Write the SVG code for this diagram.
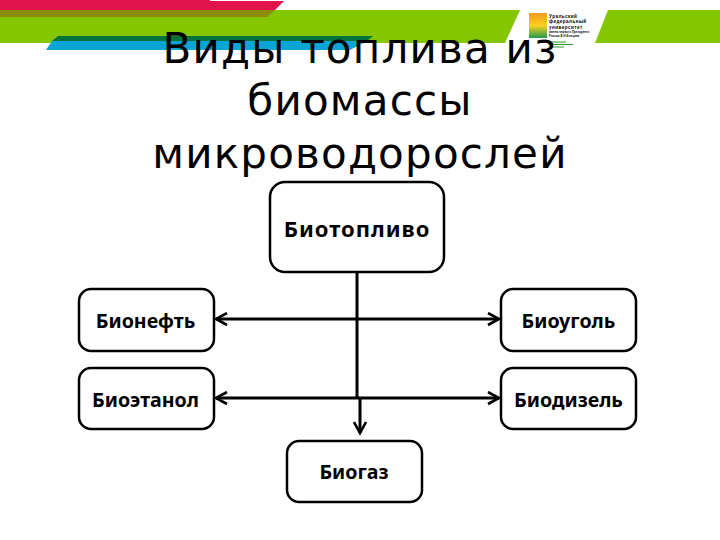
<svg xmlns="http://www.w3.org/2000/svg" width="720" height="540" viewBox="0 0 720 540">
<defs>
<linearGradient id="lg" x1="0" y1="0" x2="0" y2="1"><stop offset="0" stop-color="#f39a1e"/><stop offset="0.5" stop-color="#fbd021"/><stop offset="1" stop-color="#1f9c4e"/></linearGradient>
<marker id="arr" markerUnits="userSpaceOnUse" markerWidth="15" markerHeight="15" refX="12" refY="7" orient="auto-start-reverse" viewBox="0 0 15 14"><path d="M1 1 L12 7 L1 13" fill="none" stroke="#000" stroke-width="2.6"/></marker>
</defs>
<style>
.n{fill:#fff;stroke:#000;stroke-width:2.5}
.t{font-family:"Noto Sans","Open Sans","DejaVu Sans",sans-serif;font-weight:700;font-size:19.6px;text-anchor:middle;fill:#000}
.top{font-size:22px;letter-spacing:1px}
.h{font-family:"DejaVu Sans",sans-serif;font-size:42px;letter-spacing:1.2px;text-anchor:middle;fill:#000}
.c{fill:none;stroke:#000;stroke-width:3}
.l{font-family:"Liberation Sans",sans-serif;font-size:4.6px;letter-spacing:0.45px;font-weight:700;fill:#000}
.s{font-size:2.8px;letter-spacing:0.1px}
</style>
<rect width="720" height="540" fill="#fff"/>
<g id="bands">
<polygon points="0,10 275,10 520,10 505,43 0,43" fill="#84c600"/>
<polygon points="608,10 720,10 720,43 595,43" fill="#84c600"/>
<polygon points="0,0 210,0 210,1 284,1 275,10 0,10" fill="#e0134c"/>
<polygon points="0,10 275,10 267,17 0,17" fill="#8a8c0a"/>
<polygon points="58,36 373,36 367,41 52,41" fill="#05743a"/>
<polygon points="52,41 367,41 350,50 46,50" fill="#0ba5d5"/>
</g>
<g id="logo">
<rect x="529" y="13" width="18" height="25" fill="url(#lg)"/>
<text class="l" x="549" y="18">Уральский</text>
<text class="l" x="549" y="23.400">федеральный</text>
<text class="l" x="549" y="28.800">университет</text>
<text class="l s" x="549" y="33">имени первого Президента</text>
<text class="l s" x="549" y="36.600">России Б.Н.Ельцина</text>
<path d="M552 42h14M552 44.500h21M552 47h12" stroke="#2f9a30" stroke-width="1"/>
</g>
<g id="title">
<text class="h" x="360" y="63">Виды топлива из</text>
<text class="h" x="360" y="115">биомассы</text>
<text class="h" x="360" y="168">микроводорослей</text>
</g>
<g id="connectors">
<path class="c" d="M357 272V398"/>
<path class="c" d="M360 398V433" marker-end="url(#arr)"/>
<path class="c" d="M216 319H499" marker-start="url(#arr)" marker-end="url(#arr)"/>
<path class="c" d="M216 398H499" marker-start="url(#arr)" marker-end="url(#arr)"/>
</g>
<g id="biotoplivo"><rect class="n" x="270" y="182" width="174" height="90" rx="15"/><text class="t top" x="357" y="237">Биотопливо</text></g>
<g id="bioneft"><rect class="n" x="79" y="289" width="135" height="62" rx="12"/><text class="t" x="145.500" y="328">Бионефть</text></g>
<g id="bioetanol"><rect class="n" x="79" y="368" width="135" height="61" rx="12"/><text class="t" x="145.500" y="407">Биоэтанол</text></g>
<g id="biougol"><rect class="n" x="501" y="289" width="135" height="62" rx="12"/><text class="t" x="568.500" y="328">Биоуголь</text></g>
<g id="biodizel"><rect class="n" x="501" y="368" width="135" height="61" rx="12"/><text class="t" x="568.500" y="407">Биодизель</text></g>
<g id="biogaz"><rect class="n" x="287" y="441" width="135" height="61" rx="12"/><text class="t" x="354" y="479">Биогаз</text></g>
</svg>
